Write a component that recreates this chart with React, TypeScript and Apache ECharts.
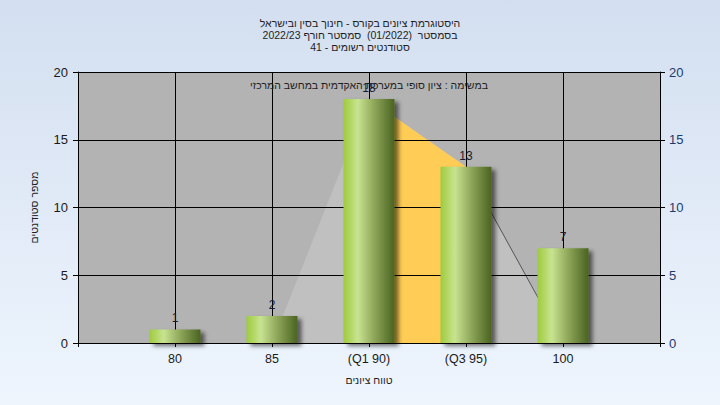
import React, { useEffect, useRef } from "react";
import * as echarts from "echarts";

const titleLines = [
  "היסטוגרמת ציונים בקורס - חינוך בסין ובישראל",
  "בסמסטר  (01/2022)  סמסטר חורף 2022/23",
  "סטודנטים רשומים - 41",
];
const subtitle = "במשימה : ציון סופי במערכת האקדמית במחשב המרכזי";
const xName = "טווח ציונים";
const yName = "מספר סטודנטים";

const gradeValues = [80, 85, 90, 95, 100];
const gradeLabels = ["80", "85", "(Q1 90)", "(Q3 95)", "100"];
const counts = [1, 2, 18, 13, 7];

const curveX = [85, 90, 95, 100];
const curveY = [0, 18, 13, 0];
const iqrX = [90, 95];
const iqrY = [18, 13];
const tailX = [95, 100];
const tailY = [13, 0];

const FONT = "'Liberation Sans', 'DejaVu Sans', Arial, sans-serif";

export default function App() {
  const ref = useRef<HTMLDivElement>(null);
  useEffect(() => {
    if (!ref.current) return;
    const chart = echarts.init(ref.current, undefined, { renderer: "svg" });
    const labelFor = (v: number) => {
      const i = gradeValues.indexOf(v);
      return i >= 0 ? gradeLabels[i] : "";
    };
    const barGradient = new echarts.graphic.LinearGradient(0, 0, 1, 0, [
      { offset: 0, color: "#9ecb3c" },
      { offset: 0.28, color: "#c8e391" },
      { offset: 0.6, color: "#8ea75a" },
      { offset: 1, color: "#4a6320" },
    ]);
    chart.setOption({
      animation: false,
      backgroundColor: new echarts.graphic.LinearGradient(0, 0, 0, 1, [
        { offset: 0, color: "#d3dff0" },
        { offset: 1, color: "#eef5fd" },
      ]),
      textStyle: { fontFamily: FONT },
      title: [
        {
          text: titleLines.join("\n"),
          left: "center",
          top: 12,
          textStyle: {
            fontSize: 10.5,
            lineHeight: 12,
            fontWeight: "normal",
            color: "#1e1e1e",
            fontFamily: FONT,
          },
        },
      ],
      graphic: [
        {
          type: "text",
          x: 369,
          y: 85,
          z: 10,
          style: {
            text: subtitle,
            textAlign: "center",
            textVerticalAlign: "middle",
            fontSize: 10.5,
            fill: "#1e1e1e",
            fontFamily: FONT,
          },
        },
      ],
      grid: {
        left: 78,
        right: 60,
        top: 72,
        bottom: 62,
        show: true,
        backgroundColor: "#b3b3b3",
        borderWidth: 0,
      },
      xAxis: {
        type: "value",
        min: 75,
        max: 105,
        interval: 5,
        z: 3,
        name: xName,
        nameLocation: "middle",
        nameGap: 31,
        nameTextStyle: { fontSize: 10.5, color: "#1e1e1e", fontFamily: FONT },
        axisLine: { show: true, lineStyle: { color: "#000", width: 1 } },
        axisTick: { show: true, length: 4, lineStyle: { color: "#000" } },
        axisLabel: {
          formatter: (v: number) => labelFor(v),
          fontSize: 12.5,
          color: "#1a1a1a",
          margin: 9,
          showMinLabel: true,
          showMaxLabel: true,
        },
        splitLine: { show: true, lineStyle: { color: "#000", width: 1 } },
      },
      yAxis: [
        {
          type: "value",
          min: 0,
          max: 20,
          interval: 5,
          position: "left",
          z: 3,
          name: yName,
          nameLocation: "middle",
          nameGap: 39,
          nameTextStyle: { fontSize: 10.5, color: "#1e1e1e", fontFamily: FONT },
          axisLine: { show: true, lineStyle: { color: "#000", width: 1 } },
          axisTick: { show: true, length: 5, lineStyle: { color: "#000" } },
          axisLabel: { fontSize: 13, color: "#1a1a1a", margin: 10 },
          splitLine: { show: true, lineStyle: { color: "#000", width: 1 } },
        },
        {
          type: "value",
          min: 0,
          max: 20,
          interval: 5,
          position: "right",
          z: 3,
          axisLine: { show: true, lineStyle: { color: "#000", width: 1 } },
          axisTick: { show: true, length: 5, lineStyle: { color: "#000" } },
          axisLabel: { fontSize: 13, color: "#1d3a6e", margin: 9 },
          splitLine: { show: false },
        },
      ],
      series: [
        {
          type: "line",
          z: 1,
          data: curveX.map((x, i) => [x, curveY[i]]),
          symbol: "none",
          lineStyle: { width: 0, opacity: 0 },
          areaStyle: { color: "#c0c0c0", opacity: 1 },
          silent: true,
        },
        {
          type: "line",
          z: 1,
          data: iqrX.map((x, i) => [x, iqrY[i]]),
          symbol: "none",
          lineStyle: { width: 0, opacity: 0 },
          areaStyle: { color: "#ffcc55", opacity: 1 },
          silent: true,
        },
        {
          type: "line",
          z: 2,
          data: tailX.map((x, i) => [x, tailY[i]]),
          symbol: "none",
          lineStyle: { width: 1, color: "#555555" },
          silent: true,
        },
        {
          type: "bar",
          z: 5,
          barWidth: 51,
          data: gradeValues.map((x, i) => [x, counts[i]]),
          itemStyle: {
            color: barGradient,
            shadowColor: "rgba(0,0,0,0.55)",
            shadowBlur: 4,
            shadowOffsetX: 4,
            shadowOffsetY: 3,
          },
          label: {
            show: true,
            position: "top",
            distance: 5,
            fontSize: 12,
            color: "#1a1a2e",
            formatter: (p: any) => String(p.value[1]),
          },
        },
      ],
    });
    return () => chart.dispose();
  }, []);
  return (
    <div
      style={{ position: "fixed", left: 0, top: 0, width: 720, height: 405 }}
    >
      <div ref={ref} style={{ width: 720, height: 405 }} />
    </div>
  );
}
